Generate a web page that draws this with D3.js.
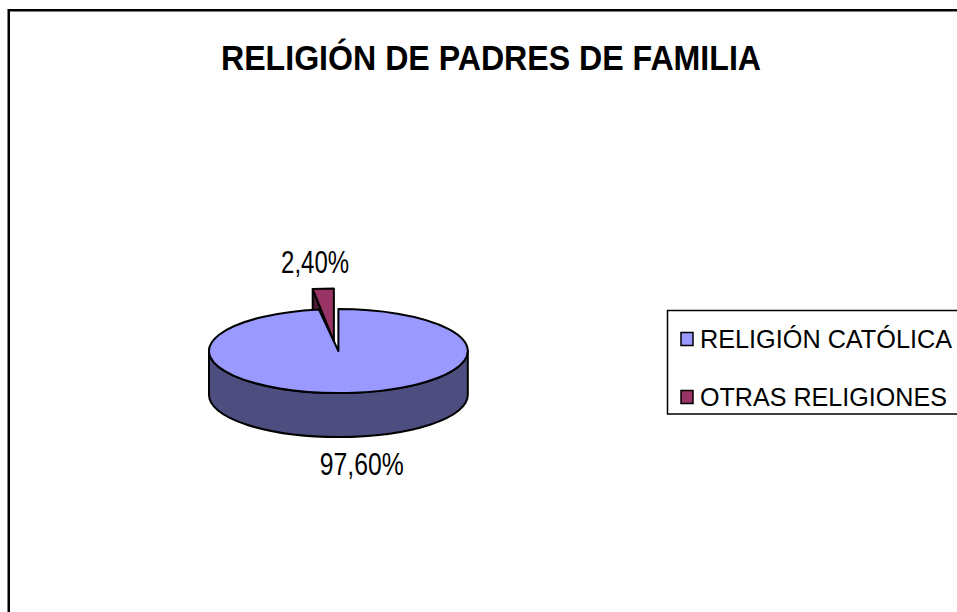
<!DOCTYPE html>
<html>
<head>
<meta charset="utf-8">
<script src="https://cdn.jsdelivr.net/npm/d3@7"></script>
<style>
  html, body { margin: 0; padding: 0; background: #fff; }
  svg { display: block; }
  text { font-family: "Liberation Sans", Arial, sans-serif; fill: #000; }
</style>
</head>
<body>
<script>
// Religion of parents (share of families, %)
const categories = ["RELIGIÓN CATÓLICA", "OTRAS RELIGIONES"];
const values = [97.6, 2.4];
const colors = ["#9999FF", "#993366"];
const chartTitle = "RELIGIÓN DE PADRES DE FAMILIA";

const W = 957, H = 612;
const svg = d3.select("body").append("svg").attr("width", W).attr("height", H);

// chart area frame
svg.append("rect")
  .attr("x", 8.75).attr("y", 10.25)
  .attr("width", W + 40).attr("height", H + 40)
  .attr("fill", "#fff").attr("stroke", "#000").attr("stroke-width", 2.5);

// title
svg.append("text")
  .attr("x", 491).attr("y", 70)
  .attr("text-anchor", "middle")
  .attr("font-size", 35).attr("font-weight", "bold")
  .attr("textLength", 540).attr("lengthAdjust", "spacingAndGlyphs")
  .text(chartTitle);

// 3D pie geometry
const cx = 338.4, cy = 351, rx = 129.4, ry = 42, depth = 44;
const explodeX = 60, explodeY = 9.6;         // offset of the pulled-out slice
const liftSX = 1.09, liftSY = 1.26;          // pulled-out slice drawn slightly larger
const labelGap = 27;

const pie = d3.pie().sort(null).startAngle(0).endAngle(2 * Math.PI);
const arcs = pie(values).map((d, i) => {
  const exploded = i === 1;
  const mid = (d.startAngle + d.endAngle) / 2;
  const ox = exploded ? Math.sin(mid) * explodeX : 0;
  const oy = exploded ? -Math.cos(mid) * explodeY : 0;
  return {
    ...d, i, mid,
    cx: cx + ox, cy: cy + oy,
    rx: exploded ? rx * liftSX : rx,
    ry: exploded ? ry * liftSY : ry
  };
});

const pt = (a, s, dy = 0) => [s.cx + s.rx * Math.sin(a), s.cy - s.ry * Math.cos(a) + dy];
const half = c => { const r = d3.rgb(c); return d3.rgb(r.r / 2, r.g / 2, r.b / 2).formatHex(); };

function topPath(s) {
  const p0 = pt(s.startAngle, s), p1 = pt(s.endAngle, s);
  const large = (s.endAngle - s.startAngle) > Math.PI ? 1 : 0;
  return `M${s.cx},${s.cy}L${p0}A${s.rx},${s.ry} 0 ${large} 1 ${p1}Z`;
}
function frontWall(s) {
  // visible outer wall: part of the slice between 90° and 270°
  const a0 = Math.max(s.startAngle, Math.PI / 2), a1 = Math.min(s.endAngle, 3 * Math.PI / 2);
  if (a1 <= a0) return null;
  const t0 = pt(a0, s), t1 = pt(a1, s), b0 = pt(a0, s, depth), b1 = pt(a1, s, depth);
  return `M${t0}A${s.rx},${s.ry} 0 0 1 ${t1}L${b1}A${s.rx},${s.ry} 0 0 0 ${b0}Z`;
}
function radialFace(s, a) {
  const r = pt(a, s), rb = pt(a, s, depth);
  return `M${s.cx},${s.cy}L${r}L${rb}L${s.cx},${s.cy + depth}Z`;
}

const g = svg.append("g").attr("stroke", "#000").attr("stroke-width", 2).attr("stroke-linejoin", "round");

// back (pulled-out) slice first, then the large slice over it
const small = arcs[1], big = arcs[0];
g.append("path").attr("d", radialFace(small, small.startAngle)).attr("fill", half(colors[1]));
g.append("path").attr("d", topPath(small)).attr("fill", colors[1]);
const wall = frontWall(big);
if (wall) g.append("path").attr("d", wall).attr("fill", half(colors[0]));
g.append("path").attr("d", topPath(big)).attr("fill", colors[0]);

// data labels
const esLocale = d3.formatLocale({ decimal: ",", thousands: ".", grouping: [3], currency: ["", "€"] });
const fmt = v => esLocale.format(".2f")(v) + "%";
const labelW = [84, 68];
arcs.forEach(s => {
  const c = Math.cos(s.mid);
  const lx = cx + Math.sin(s.mid) * 310;
  const ly = s.cy - c * (s.ry + labelGap) + (c < 0 ? depth : 0);
  svg.append("text")
    .attr("x", lx).attr("y", ly + 11.5)
    .attr("text-anchor", "middle")
    .attr("font-size", 31)
    .attr("textLength", labelW[s.i]).attr("lengthAdjust", "spacingAndGlyphs")
    .text(fmt(values[s.i]));
});

// legend
const leg = svg.append("g");
leg.append("rect")
  .attr("x", 667.5).attr("y", 310.5).attr("width", 340).attr("height", 103.5)
  .attr("fill", "#fff").attr("stroke", "#000").attr("stroke-width", 1.5);
const legY = d3.scalePoint().domain(categories).range([339, 397]);
categories.forEach((c, i) => {
  leg.append("rect")
    .attr("x", 681).attr("y", legY(c) - 6.5).attr("width", 12).attr("height", 13)
    .attr("fill", colors[i]).attr("stroke", "#000").attr("stroke-width", 1.5);
  leg.append("text")
    .attr("x", 700).attr("y", legY(c) + 9)
    .attr("font-size", 25.5)
    .attr("textLength", i === 0 ? 252 : 247).attr("lengthAdjust", "spacingAndGlyphs")
    .text(c);
});
</script>
</body>
</html>
